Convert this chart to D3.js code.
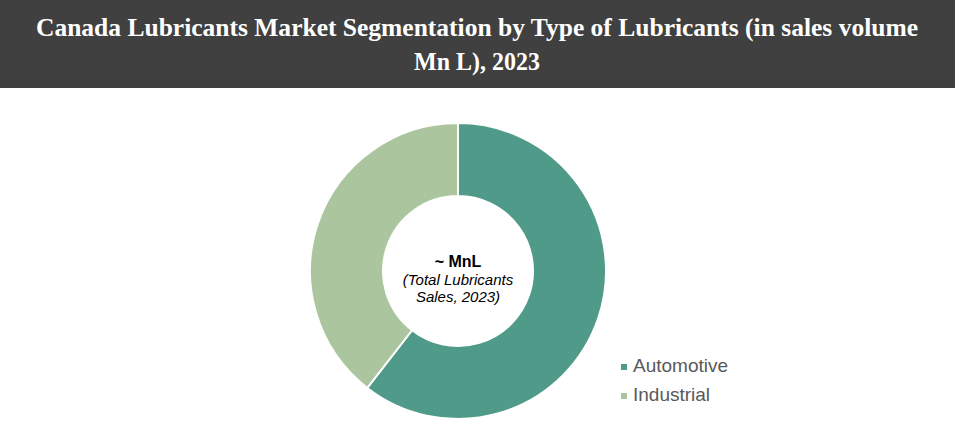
<!DOCTYPE html>
<html><head><meta charset="utf-8">
<script src="https://cdn.jsdelivr.net/npm/d3@7"></script>
<style>body{margin:0;background:#fff}svg{display:block}</style>
</head><body>
<svg id="c" width="955" height="431"></svg>
<script>
const categories = ["Automotive", "Industrial"];
const values = [60.5, 39.5];
const colors = ["#4F9A88", "#ABC69F"];
const titleLines = ["Canada Lubricants Market Segmentation by Type of Lubricants (in sales volume", "Mn L), 2023"];
const centerLines = ["~ MnL", "(Total Lubricants", "Sales, 2023)"];

const svg = d3.select("#c");
svg.append("rect").attr("x",0).attr("y",0).attr("width",955).attr("height",88).attr("fill","#404040");
svg.selectAll("text.title").data(titleLines).join("text")
  .attr("class","title")
  .attr("x",477).attr("y",(d,i)=>36+i*34)
  .attr("text-anchor","middle")
  .attr("fill","#fff")
  .attr("font-family","Liberation Serif, DejaVu Serif, serif")
  .attr("font-weight","bold")
  .attr("font-size",26)
  .attr("textLength",(d,i)=> i===0 ? 882 : 126)
  .attr("lengthAdjust","spacingAndGlyphs")
  .text(d=>d);

const cx = 458, cy = 271, R = 148, r = 75;
const pie = d3.pie().sort(null).value(d=>d)(values);
const arc = d3.arc().innerRadius(r).outerRadius(R);
const g = svg.append("g").attr("transform",`translate(${cx},${cy})`);
g.selectAll("path").data(pie).join("path")
  .attr("d",arc)
  .attr("fill",(d,i)=>colors[i])
  .attr("stroke","#fff").attr("stroke-width",2);

g.selectAll("text").data(centerLines).join("text")
  .attr("x",0).attr("y",(d,i)=>[-4,14,31][i])
  .attr("text-anchor","middle")
  .attr("fill","#000")
  .attr("font-family","Liberation Sans, Arial, sans-serif")
  .attr("font-size",(d,i)=> i===0 ? 16 : 15)
  .attr("font-weight",(d,i)=> i===0 ? "bold" : "normal")
  .attr("font-style",(d,i)=> i===0 ? "normal" : "italic")
  .text(d=>d);

const leg = svg.append("g").selectAll("g").data(categories).join("g")
  .attr("transform",(d,i)=>`translate(621,${372+i*29})`);
leg.append("rect").attr("x",0).attr("y",-8).attr("width",6).attr("height",6).attr("fill",(d,i)=>colors[i]);
leg.append("text").attr("x",12).attr("y",0)
  .attr("font-family","Liberation Sans, Arial, sans-serif")
  .attr("font-size",19).attr("fill","#595959").text(d=>d);
</script>
</body></html>
